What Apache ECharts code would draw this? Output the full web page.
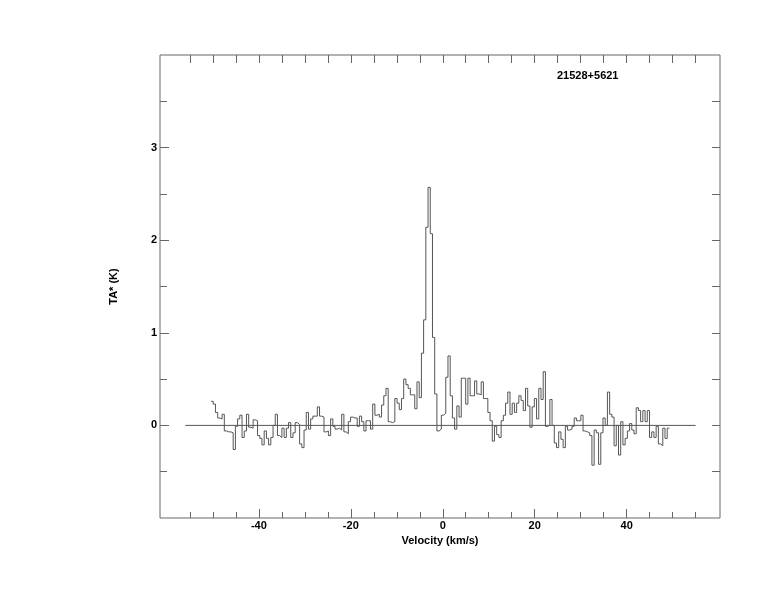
<!DOCTYPE html>
<html>
<head>
<meta charset="utf-8">
<script src="https://cdn.jsdelivr.net/npm/echarts@6/dist/echarts.min.js"></script>
<style>
html,body{margin:0;padding:0;background:#fff;}
#chart{width:774px;height:612px;}
</style>
</head>
<body>
<div id="chart"></div>
<script>
// Spectrum: antenna temperature TA* (K) per channel, channels of equal width
const sourceName = "21528+5621";
const firstChannelEdge = -50.4;   // km/s, left edge of first channel
const lastChannelEdge = 49.3;     // km/s, right edge of last channel
const tempK = [
  0.26,0.23,0.14,0.08,0.07,0.12,-0.06,-0.07,-0.07,-0.08,
  -0.26,-0.01,0.07,0.11,-0.13,-0.06,0.12,-0.02,-0.03,0.06,
  0.05,-0.11,-0.14,-0.21,-0.06,-0.14,-0.21,-0.13,0.0,0.12,
  -0.11,-0.13,-0.03,-0.13,-0.03,0.03,-0.13,-0.08,0.03,0.01,
  -0.2,-0.24,-0.05,0.14,-0.04,0.07,0.1,0.1,0.2,0.1,
  0.09,-0.07,-0.06,-0.11,0.07,-0.01,-0.04,-0.03,-0.05,0.12,
  -0.07,-0.09,0.04,0.09,0.08,0.08,-0.01,0.1,0.04,-0.06,
  0.05,0.05,-0.04,0.23,0.11,0.12,0.09,0.22,0.32,0.4,
  0.04,0.03,0.04,0.29,0.24,0.17,0.29,0.5,0.44,0.4,
  0.33,0.33,0.18,0.47,0.3,0.78,1.14,2.14,2.57,2.07,
  0.95,0.34,-0.06,-0.04,0.11,0.13,0.52,0.75,0.32,0.08,
  -0.04,0.21,0.09,0.51,0.51,0.23,0.51,0.32,0.32,0.48,
  0.34,0.33,0.47,0.29,0.29,0.14,0.05,-0.17,-0.01,-0.1,
  -0.13,0.05,0.11,0.24,0.36,0.12,0.24,0.14,0.24,0.32,
  0.27,0.16,0.4,0.21,-0.02,0.2,0.29,0.07,0.4,0.28,
  0.58,-0.01,0.0,0.28,0.0,-0.19,-0.24,-0.07,-0.15,-0.24,
  -0.01,-0.05,-0.04,-0.01,0.08,0.05,0.05,0.11,-0.06,-0.07,
  -0.08,-0.11,-0.43,-0.05,-0.08,-0.42,-0.08,0.08,0.0,0.36,
  0.12,0.09,-0.22,0.0,-0.32,0.04,-0.21,-0.14,-0.06,0.02,
  -0.05,-0.09,0.19,0.16,0.04,0.16,0.04,0.16,-0.13,-0.07,
  -0.13,-0.01,-0.2,-0.22,-0.03,-0.14,-0.03
];
const baselineRange = [-56, 55];
const xRange = [-61.5, 60.3];
const yRange = [-1, 4];
const xMajorTicks = [-40, -20, 0, 20, 40];
const xMinorTicks = [-55,-50,-45,-35,-30,-25,-15,-10,-5,5,10,15,25,30,35,45,50,55];
const xTopTicks = [-55,-50,-45,-40,-35,-30,-25,-20,-15,-10,-5,0,5,10,15,20,25,30,35,40,45,50,55];
const yMajorTicks = [0, 1, 2, 3];
const yMinorTicks = [-0.5, 0.5, 1.5, 2.5, 3.5];
const yAllTicks = [-0.5, 0, 0.5, 1, 1.5, 2, 2.5, 3, 3.5];

const n = tempK.length;
const dv = (lastChannelEdge - firstChannelEdge) / n;
const stepData = tempK.map((t, i) => [firstChannelEdge + i * dv, t]);
stepData.push([lastChannelEdge, tempK[n - 1]]);

const lineCol = '#555555';
const frameCol = '#666666';
const labelFont = {color: '#000', fontFamily: 'Liberation Sans, Arial, sans-serif', fontWeight: 'bold', fontSize: 11};

function xAx(extra) {
  return Object.assign({
    type: 'value', min: xRange[0], max: xRange[1], gridIndex: 0,
    axisLine: {show: false, onZero: false}, splitLine: {show: false},
    axisLabel: {show: false}, axisTick: {show: false}
  }, extra);
}
function yAx(extra) {
  return Object.assign({
    type: 'value', min: yRange[0], max: yRange[1], gridIndex: 0,
    axisLine: {show: false, onZero: false}, splitLine: {show: false},
    axisLabel: {show: false}, axisTick: {show: false}
  }, extra);
}

const chart = echarts.init(document.getElementById('chart'), null, {renderer: 'canvas'});
chart.setOption({
  animation: false,
  backgroundColor: '#fff',
  grid: {left: 160, right: 54, top: 55, bottom: 94, show: true, borderColor: frameCol, borderWidth: 1, backgroundColor: 'transparent'},
  xAxis: [
    xAx({position: 'bottom',
      name: 'Velocity (km/s)', nameLocation: 'middle', nameGap: 13,
      nameTextStyle: labelFont,
      axisTick: {show: true, inside: true, length: 9, customValues: xMajorTicks, lineStyle: {color: frameCol}},
      axisLabel: Object.assign({show: true, margin: 2, customValues: xMajorTicks}, labelFont)}),
    xAx({position: 'bottom',
      axisTick: {show: true, inside: true, length: 6, customValues: xMinorTicks, lineStyle: {color: frameCol}}}),
    xAx({position: 'top',
      axisTick: {show: true, inside: true, length: 8, customValues: xTopTicks, lineStyle: {color: frameCol}}})
  ],
  yAxis: [
    yAx({position: 'left',
      name: 'TA* (K)', nameLocation: 'middle', nameGap: 41, nameRotate: 90,
      nameTextStyle: labelFont,
      axisTick: {show: true, inside: true, length: 9, customValues: yMajorTicks, lineStyle: {color: frameCol}},
      axisLabel: Object.assign({show: true, margin: 3, customValues: yMajorTicks}, labelFont)}),
    yAx({position: 'left',
      axisTick: {show: true, inside: true, length: 7, customValues: yMinorTicks, lineStyle: {color: frameCol}}}),
    yAx({position: 'right',
      axisTick: {show: true, inside: true, length: 8, customValues: yAllTicks, lineStyle: {color: frameCol}}})
  ],
  graphic: [{
    type: 'text', left: 557, top: 70,
    style: {text: sourceName, fill: '#000', font: 'bold 11px "Liberation Sans", Arial, sans-serif'}
  }],
  series: [
    {
      type: 'line', xAxisIndex: 0, yAxisIndex: 0,
      data: [[baselineRange[0], 0], [baselineRange[1], 0]],
      symbol: 'none', lineStyle: {color: lineCol, width: 1}, silent: true
    },
    {
      type: 'line', xAxisIndex: 0, yAxisIndex: 0,
      data: stepData, step: 'end',
      symbol: 'none', lineStyle: {color: lineCol, width: 1}, silent: true
    }
  ]
});
</script>
</body>
</html>
